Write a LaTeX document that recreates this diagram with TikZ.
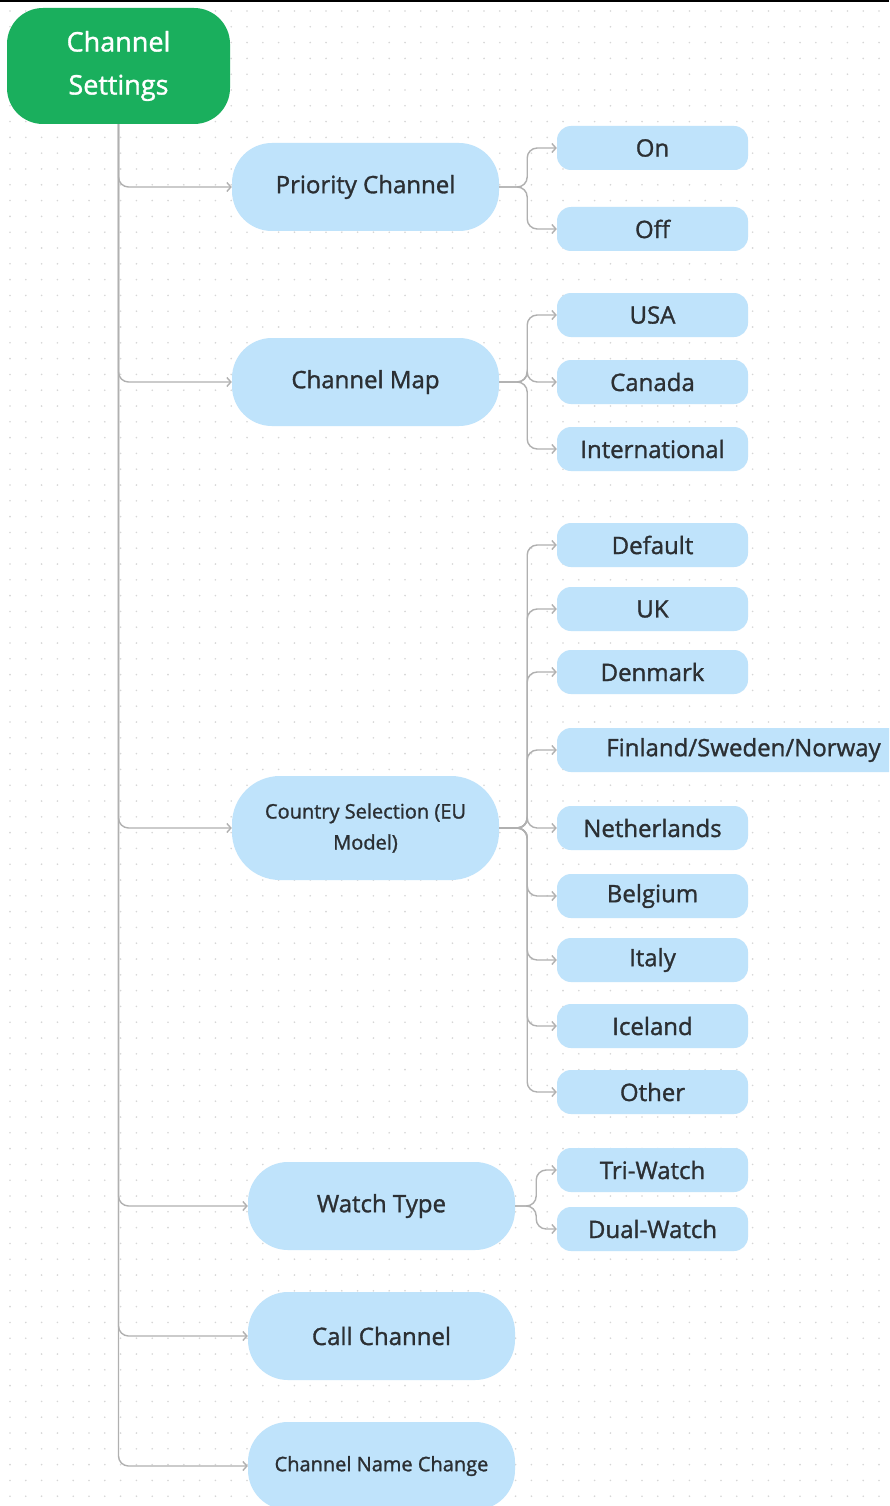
\documentclass[tikz,border=0pt]{standalone}
\usepackage{fontspec}
\setmainfont{Open Sans}[FakeBold=1.3]
\usetikzlibrary{arrows.meta}
\definecolor{rootgreen}{HTML}{1AAF5D}
\definecolor{boxblue}{HTML}{BFE3FB}
\definecolor{txt}{HTML}{2B2F33}
\definecolor{linegray}{HTML}{B0B0B0}
\definecolor{dotgray}{HTML}{D6D6D6}
\tikzset{
 rootbox/.style={fill=rootgreen, rounded corners=36pt, minimum width=223pt, minimum height=116pt, text=white, align=center, font=\fontsize{27}{43}\selectfont, inner sep=0pt},
 l1box/.style={fill=boxblue, rounded corners=40pt, minimum width=267pt, minimum height=88pt, text=txt, align=center, font=\fontsize{24}{28}\selectfont, inner sep=0pt},
 l1small/.style={l1box, font=\fontsize{20}{31}\selectfont},
 l2box/.style={fill=boxblue, rounded corners=14pt, minimum width=191pt, minimum height=44pt, text=txt, font=\fontsize{24}{28}\selectfont, inner sep=0pt},
 conn/.style={draw=linegray, line width=1.4pt, rounded corners=10pt, -{Straight Barb[length=4pt,width=9pt]}},
}
\begin{document}
\begin{tikzpicture}[x=1pt,y=-1pt]
\useasboundingbox (0,0) rectangle (889,1506);
\clip (0,0) rectangle (889,1506);
\fill[white] (0,0) rectangle (889,1506);
\foreach \i in {0,...,56} {\foreach \j in {0,...,95} {\fill[dotgray] (10+\i*15.8, 11+\j*15.8) circle (0.9pt);}}
\draw[black, line width=2pt] (0,1) -- (889,1);
% level 0
\node[rootbox] (root) at (118.5,66) {\raisebox{-3pt}{Channel}\\\raisebox{-3pt}{Settings}};
% level 1
\node[l1box] (pc) at (365.5,187) {Priority Channel};
\node[l1box] (cm) at (365.5,382) {Channel Map};
\node[l1small, minimum height=104pt, rounded corners=48pt] (cs) at (365.5,828) {Country Selection (EU\\Model)};
\node[l1box] (wt) at (381.5,1206) {Watch Type};
\node[l1box] (cc) at (381.5,1336) {Call Channel};
\node[l1small] (cn) at (381.5,1466) {Channel Name Change};
% level 2
\node[l2box] (on) at (652.5,148) {On};
\node[l2box] (off) at (652.5,229) {Off};
\node[l2box] (usa) at (652.5,315) {USA};
\node[l2box] (can) at (652.5,382) {Canada};
\node[l2box] (intl) at (652.5,449) {International};
\node[l2box] (def) at (652.5,545) {Default};
\node[l2box] (uk) at (652.5,609) {UK};
\node[l2box] (den) at (652.5,672) {Denmark};
\node[l2box, minimum width=373pt] (fin) at (743.5,750) {Finland/Sweden/Norway};
\node[l2box] (net) at (652.5,828) {Netherlands};
\node[l2box] (bel) at (652.5,896) {Belgium};
\node[l2box] (ita) at (652.5,960) {Italy};
\node[l2box] (ice) at (652.5,1026) {Iceland};
\node[l2box] (oth) at (652.5,1092) {Other};
\node[l2box] (tri) at (652.5,1170) {Tri-Watch};
\node[l2box] (dual) at (652.5,1229) {Dual-Watch};
% trunk connectors
\foreach \t in {pc,cm,cs,wt,cc,cn} {\draw[conn] (root.south) |- (\t.west);}
% child connectors
\foreach \t in {on,off} {\draw[conn] (pc.east) -- ++(28pt,0) |- (\t.west);}
\foreach \t in {usa,can,intl} {\draw[conn] (cm.east) -- ++(28pt,0) |- (\t.west);}
\foreach \t in {def,uk,den,fin,net,bel,ita,ice,oth} {\draw[conn] (cs.east) -- ++(28pt,0) |- (\t.west);}
\foreach \t in {tri,dual} {\draw[conn] (wt.east) -- ++(21pt,0) |- (\t.west);}
\end{tikzpicture}
\end{document}
